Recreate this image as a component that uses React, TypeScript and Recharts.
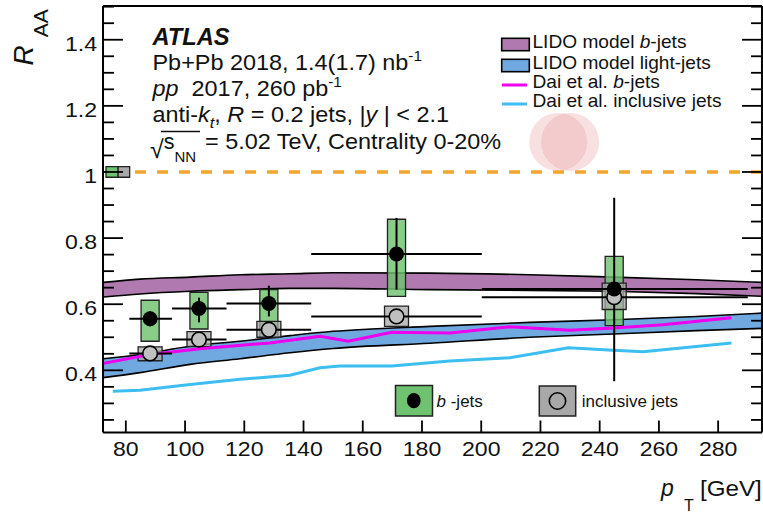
import React from 'react';
import {
  ComposedChart,
  XAxis,
  YAxis,
  Area,
  Line,
  Scatter,
  ErrorBar,
  ReferenceArea,
  ReferenceLine,
  ReferenceDot,
} from 'recharts';

// ---------- axis ticks ----------
const xMajorTicks = [80, 100, 120, 140, 160, 180, 200, 220, 240, 260, 280];
const xMinorTicks = [75, 85, 90, 95, 105, 110, 115, 125, 130, 135, 145, 150, 155, 165, 170, 175, 185, 190, 195, 205, 210, 215, 225, 230, 235, 245, 250, 255, 265, 270, 275, 285, 290];
const yMajorTicks = [0.4, 0.6, 0.8, 1.0, 1.2, 1.4];
const yMinorTicks = [0.25, 0.3, 0.35, 0.45, 0.5, 0.55, 0.65, 0.7, 0.75, 0.85, 0.9, 0.95, 1.05, 1.1, 1.15, 1.25, 1.3, 1.35, 1.45, 1.5];

// ---------- measurements ----------
const binLow = [81.2, 95.6, 114.0, 142.6, 200.2];
const binHigh = [95.6, 114.0, 142.6, 200.2, 290.0];
const ptCenter = [88.2, 104.7, 128.3, 171.4, 244.9];

const bjetRaa = [0.556, 0.587, 0.602, 0.752, 0.646];
const bjetStatLow = [0.533, 0.545, 0.563, 0.644, 0.367];
const bjetStatHigh = [0.579, 0.620, 0.656, 0.861, 0.922];
const bjetSystLow = [0.488, 0.525, 0.499, 0.624, 0.535];
const bjetSystHigh = [0.612, 0.636, 0.644, 0.857, 0.745];

const inclRaa = [0.451, 0.493, 0.523, 0.563, 0.621];
const inclStat = [0.004, 0.004, 0.004, 0.005, 0.006];
const inclSystLow = [0.429, 0.472, 0.500, 0.533, 0.584];
const inclSystHigh = [0.471, 0.517, 0.548, 0.594, 0.664];

const normBjet = 0.016;
const normIncl = 0.016;

// ---------- models ----------
const lidoPt = [72.4, 84.8, 101.7, 118.6, 135.4, 150, 182.7, 216.4, 244.6, 272.7, 294.8];
const lidoBUpper = [0.666, 0.676, 0.682, 0.689, 0.692, 0.695, 0.694, 0.689, 0.682, 0.674, 0.666];
const lidoBLower = [0.622, 0.631, 0.639, 0.644, 0.648, 0.648, 0.644, 0.642, 0.639, 0.632, 0.624];
const lidoLUpper = [0.435, 0.448, 0.473, 0.488, 0.505, 0.518, 0.533, 0.545, 0.553, 0.563, 0.573];
const lidoLLower = [0.378, 0.393, 0.418, 0.435, 0.453, 0.466, 0.482, 0.500, 0.510, 0.520, 0.527];

const daiBPt = [72.4, 88.2, 105, 128.6, 145.6, 155.1, 169.8, 189.4, 209.7, 229.9, 244.6, 261.4, 284.5];
const daiBRaa = [0.421, 0.448, 0.465, 0.483, 0.503, 0.488, 0.515, 0.513, 0.532, 0.521, 0.528, 0.538, 0.559];
const daiInclPt = [75.6, 84.8, 101.7, 118.6, 135.4, 145.6, 152.3, 169.8, 189.4, 209.7, 229.4, 244.6, 254.7, 284.5];
const daiInclRaa = [0.337, 0.340, 0.357, 0.373, 0.385, 0.408, 0.413, 0.413, 0.428, 0.438, 0.468, 0.461, 0.456, 0.483];

// decorative blobs
const blobX = [226.0, 230.0];
const blobY = [1.091, 1.091];

// ---------- derived tables ----------
const lidoBData = lidoPt.map((x, i) => ({ x, range: [lidoBLower[i], lidoBUpper[i]] }));
const lidoLData = lidoPt.map((x, i) => ({ x, range: [lidoLLower[i], lidoLUpper[i]] }));
const daiBData = daiBPt.map((x, i) => ({ x, y: daiBRaa[i] }));
const daiInclData = daiInclPt.map((x, i) => ({ x, y: daiInclRaa[i] }));
const bjetData = ptCenter.map((x, i) => ({
  x,
  y: bjetRaa[i],
  ex: [x - binLow[i], binHigh[i] - x],
  ey: [bjetRaa[i] - bjetStatLow[i], bjetStatHigh[i] - bjetRaa[i]],
}));
const inclData = ptCenter.map((x, i) => ({
  x,
  y: inclRaa[i],
  ex: [x - binLow[i], binHigh[i] - x],
  ey: [inclStat[i], inclStat[i]],
}));

const X_DOMAIN: [number, number] = [72.3, 294.8];
const Y_DOMAIN: [number, number] = [0.212, 1.502];

const FONT = '"Liberation Sans", Arial, Helvetica, sans-serif';
const C = {
  purple: '#B07AB0',
  blue: '#70A8E0',
  magenta: '#EE00EE',
  cyan: '#3CBEF0',
  green: '#6FC26F',
  gray: '#A8A8A8',
  grayDot: '#C0C0C0',
  orange: '#F5A52A',
  pink: '#EBA0A5',
  text: '#111',
};

const BOX_B = 3.05;
const BOX_I = 4.05;
const THIN = 0.01;

const axisStroke = { stroke: '#000', strokeWidth: 2 };
const tickStroke = { stroke: '#000', strokeWidth: 1.8 };

const noLabel = () => <g />;

const renderXTick = (p: any) => (
  <text
    transform={`translate(${p.x},${p.y}) scale(1.1,1)`}
    textAnchor="middle"
    fontSize={21}
    fontFamily={FONT}
    fill={C.text}
  >
    {p.payload.value}
  </text>
);

const renderYTick = (p: any) => (
  <text
    transform={`translate(${p.x},${p.y + 11}) scale(1.1,1)`}
    textAnchor="end"
    fontSize={21}
    fontFamily={FONT}
    fill={C.text}
  >
    {String(Math.round(p.payload.value * 10) / 10)}
  </text>
);

const renderBDot = (p: any) => <circle cx={p.cx} cy={p.cy} r={7.5} fill="#000" />;
const renderIDot = (p: any) => (
  <circle cx={p.cx} cy={p.cy} r={7.3} fill={C.grayDot} stroke="#000" strokeWidth={1.6} />
);

function T(props: any) {
  const { x, y, sx = 1, size, children, ...rest } = props;
  return (
    <text
      transform={`translate(${x},${y}) scale(${sx},1)`}
      fontSize={size}
      fontFamily={FONT}
      fill={C.text}
      style={{ whiteSpace: 'pre' }}
      {...rest}
    >
      {children}
    </text>
  );
}

export default function App() {
  const ax = { xAxisId: 'b', yAxisId: 'l' };
  return (
    <div style={{ position: 'absolute', left: 0, top: 0, width: 763, height: 513, background: '#fff', overflow: 'hidden' }}>
      <ComposedChart width={763} height={513} margin={{ top: 6, right: 1, bottom: 80.5, left: 103 }}>
        <XAxis
          xAxisId="b"
          dataKey="x"
          type="number"
          domain={X_DOMAIN}
          allowDataOverflow
          ticks={xMajorTicks}
          interval={0}
          height={THIN}
          tickSize={-12}
          tickMargin={36}
          axisLine={axisStroke}
          tickLine={tickStroke}
          tick={renderXTick}
        />
        <XAxis xAxisId="bm" type="number" domain={X_DOMAIN} allowDataOverflow ticks={xMinorTicks} interval={0} height={THIN} tickSize={-6} axisLine={false} tickLine={tickStroke} tick={noLabel} />
        <XAxis xAxisId="t" orientation="top" type="number" domain={X_DOMAIN} allowDataOverflow ticks={xMajorTicks} interval={0} height={THIN} tickSize={-12} axisLine={axisStroke} tickLine={tickStroke} tick={noLabel} />
        <XAxis xAxisId="tm" orientation="top" type="number" domain={X_DOMAIN} allowDataOverflow ticks={xMinorTicks} interval={0} height={THIN} tickSize={-6} axisLine={false} tickLine={tickStroke} tick={noLabel} />
        <YAxis
          yAxisId="l"
          type="number"
          domain={Y_DOMAIN}
          allowDataOverflow
          ticks={yMajorTicks}
          interval={0}
          width={THIN}
          tickSize={-20}
          tickMargin={26}
          axisLine={axisStroke}
          tickLine={tickStroke}
          tick={renderYTick}
        />
        <YAxis yAxisId="lm" type="number" domain={Y_DOMAIN} allowDataOverflow ticks={yMinorTicks} interval={0} width={THIN} tickSize={-11} axisLine={false} tickLine={tickStroke} tick={noLabel} />
        <YAxis yAxisId="r" orientation="right" type="number" domain={Y_DOMAIN} allowDataOverflow ticks={yMajorTicks} interval={0} width={THIN} tickSize={-20} axisLine={axisStroke} tickLine={tickStroke} tick={noLabel} />
        <YAxis yAxisId="rm" orientation="right" type="number" domain={Y_DOMAIN} allowDataOverflow ticks={yMinorTicks} interval={0} width={THIN} tickSize={-11} axisLine={false} tickLine={tickStroke} tick={noLabel} />

        <Area {...ax} data={lidoBData} dataKey="range" type="monotone" fill={C.purple} fillOpacity={1} stroke="#000" strokeWidth={1.6} dot={false} activeDot={false} isAnimationActive={false} />
        <Area {...ax} data={lidoLData} dataKey="range" type="monotone" fill={C.blue} fillOpacity={1} stroke="#000" strokeWidth={1.6} dot={false} activeDot={false} isAnimationActive={false} />

        <Line {...ax} data={daiInclData} dataKey="y" type="linear" stroke={C.cyan} strokeWidth={3} dot={false} activeDot={false} isAnimationActive={false} />
        <Line {...ax} data={daiBData} dataKey="y" type="linear" stroke={C.magenta} strokeWidth={3} dot={false} activeDot={false} isAnimationActive={false} />

        <ReferenceLine {...ax} segment={[{ x: 83.1, y: 1 }, { x: X_DOMAIN[1], y: 1 }]} stroke={C.orange} strokeWidth={3.5} strokeDasharray="11 11" />

        <ReferenceArea {...ax} x1={X_DOMAIN[0] + 1.0} x2={X_DOMAIN[0] + 5.1} y1={1 - normBjet} y2={1 + normBjet} fill={C.green} fillOpacity={1} stroke="#222" strokeWidth={1.3} />
        <ReferenceArea {...ax} x1={X_DOMAIN[0] + 5.1} x2={X_DOMAIN[0] + 9.0} y1={1 - normIncl} y2={1 + normIncl} fill={C.gray} fillOpacity={1} stroke="#222" strokeWidth={1.3} />

        {ptCenter.map((x, i) => (
          <ReferenceArea key={'gb' + i} {...ax} x1={x - BOX_B} x2={x + BOX_B} y1={bjetSystLow[i]} y2={bjetSystHigh[i]} fill={C.green} fillOpacity={0.82} stroke="#222" strokeWidth={1.3} />
        ))}
        {ptCenter.map((x, i) => (
          <ReferenceArea key={'ib' + i} {...ax} x1={x - BOX_I} x2={x + BOX_I} y1={inclSystLow[i]} y2={inclSystHigh[i]} fill={C.gray} fillOpacity={0.75} stroke="#222" strokeWidth={1.3} />
        ))}

        {blobX.map((x, i) => (
          <ReferenceDot key={'bl' + i} {...ax} x={x} y={blobY[i]} r={29} fill={C.pink} fillOpacity={0.33} stroke="none" />
        ))}

        <Scatter {...ax} data={inclData} dataKey="y" shape={renderIDot} isAnimationActive={false}>
          <ErrorBar dataKey="ex" direction="x" width={0} stroke="#000" strokeWidth={2} isAnimationActive={false} />
          <ErrorBar dataKey="ey" direction="y" width={0} stroke="#000" strokeWidth={2} isAnimationActive={false} />
        </Scatter>
        <Scatter {...ax} data={bjetData} dataKey="y" shape={renderBDot} isAnimationActive={false}>
          <ErrorBar dataKey="ex" direction="x" width={0} stroke="#000" strokeWidth={2} isAnimationActive={false} />
          <ErrorBar dataKey="ey" direction="y" width={0} stroke="#000" strokeWidth={2} isAnimationActive={false} />
        </Scatter>
      </ComposedChart>

      <svg width={763} height={513} style={{ position: 'absolute', left: 0, top: 0, pointerEvents: 'none' }}>
        {/* y axis title */}
        <text transform="translate(33,65.5) rotate(-90)" fontSize={28} fontFamily={FONT} fill={C.text} fontStyle="italic">
          R<tspan fontStyle="normal" fontSize={21} dx={8} dy={15}>AA</tspan>
        </text>
        {/* x axis title */}
        <T x={661} y={496} size={23} fontStyle="italic">p</T>
        <T x={684} y={511} size={16}>T</T>
        <T x={700} y={496} size={22} sx={1.1}>[GeV]</T>

        {/* ATLAS block */}
        <T x={152.5} y={44.5} size={23} sx={1.03} fontWeight="bold" fontStyle="italic">ATLAS</T>
        <T x={152.5} y={70} size={21.5} sx={1.09}>
          Pb+Pb 2018, 1.4(1.7) nb<tspan fontSize={14} dy={-9}>-1</tspan>
        </T>
        <T x={152.5} y={95.5} size={21.5} sx={1.09}>
          <tspan fontStyle="italic">pp</tspan>
          {'  2017, 260 pb'}
          <tspan fontSize={14} dy={-9}>-1</tspan>
        </T>
        <T x={152.5} y={122} size={21.5} sx={1.09}>
          {'anti-'}
          <tspan fontStyle="italic">k</tspan>
          <tspan fontStyle="italic" fontSize={15} dy={6}>t</tspan>
          <tspan dy={-6}>{', '}</tspan>
          <tspan fontStyle="italic">R</tspan>
          {' = 0.2 jets, |'}
          <tspan fontStyle="italic">y</tspan>
          {' | < 2.1'}
        </T>
        <line x1={161} y1={131.5} x2={200} y2={131.5} stroke={C.text} strokeWidth={1.6} />
        <T x={150} y={149} size={21.5}>
          <tspan fontSize={25} dy={9}>√</tspan>
          <tspan dy={-9}>s</tspan>
          <tspan fontSize={15} dy={12.5}>NN</tspan>
        </T>
        <T x={205} y={149} size={21.5} sx={1.09}>= 5.02 TeV, Centrality 0-20%</T>

        {/* model legend */}
        <rect x={501.7} y={38.3} width={27.6} height={12.4} fill={C.purple} stroke="#000" strokeWidth={1.6} />
        <T x={532.5} y={48} size={17.7} sx={1.08}>
          {'LIDO model '}
          <tspan fontStyle="italic">b</tspan>
          {'-jets'}
        </T>
        <rect x={501.7} y={59.3} width={27.6} height={12.4} fill={C.blue} stroke="#000" strokeWidth={1.6} />
        <T x={532.5} y={68.5} size={17.7} sx={1.08}>LIDO model light-jets</T>
        <line x1={502} y1={85} x2={527} y2={85} stroke={C.magenta} strokeWidth={3} />
        <T x={532.5} y={88} size={17.7} sx={1.08}>
          {'Dai et al. '}
          <tspan fontStyle="italic">b</tspan>
          {'-jets'}
        </T>
        <line x1={502} y1={104} x2={527} y2={104} stroke={C.cyan} strokeWidth={3} />
        <T x={532.5} y={106.5} size={17.7} sx={1.08}>Dai et al. inclusive jets</T>

        {/* data legend */}
        <rect x={395.5} y={385.5} width={37} height={30.5} fill={C.green} stroke="#222" strokeWidth={1.5} />
        <ellipse cx={413.8} cy={400.7} rx={6.8} ry={7.6} fill="#000" />
        <T x={436.5} y={407} size={17}>
          <tspan fontStyle="italic">b</tspan>
          {' -jets'}
        </T>
        <rect x={539.3} y={386} width={36.4} height={30} fill={C.gray} stroke="#222" strokeWidth={1.5} />
        <circle cx={557.5} cy={401} r={8.2} fill={C.gray} stroke="#000" strokeWidth={1.6} />
        <T x={581.7} y={407} size={17}>inclusive jets</T>
      </svg>
    </div>
  );
}
